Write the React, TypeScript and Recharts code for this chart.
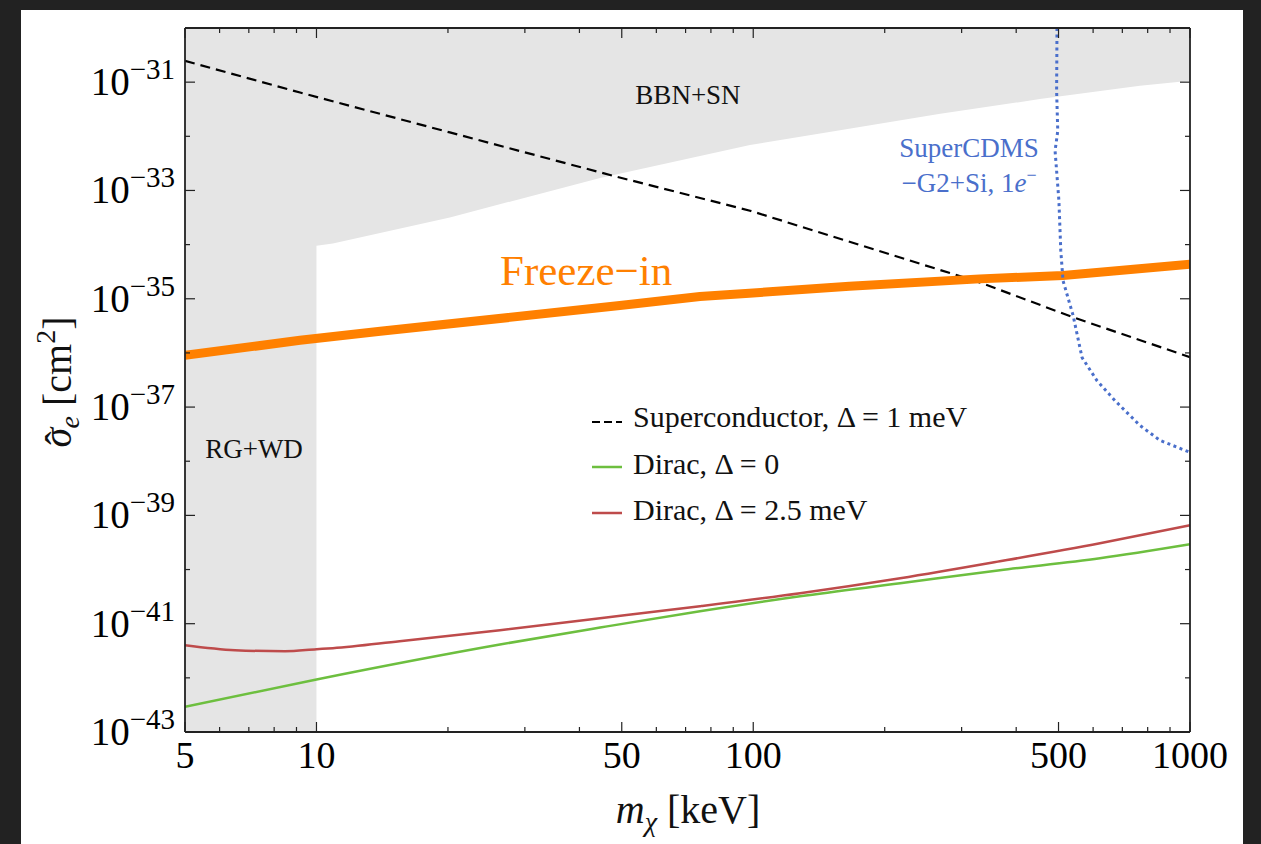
import React from "react";
import { ComposedChart, Line, Area, XAxis, YAxis } from "recharts";

// ---- axes ----
const xTicks = [5, 6, 7, 8, 9, 10, 20, 30, 40, 50, 60, 70, 80, 90, 100, 200, 300, 400, 500, 600, 700, 800, 900, 1000];
const xLabeled = [5, 10, 50, 100, 500, 1000];
const yExponents = [-43, -42, -41, -40, -39, -38, -37, -36, -35, -34, -33, -32, -31, -30];
const yLabeledExp = [-43, -41, -39, -37, -35, -33, -31];
const xDomain = [5, 1000];
const yDomain = [1e-43, 1e-30];

// ---- excluded region (RG+WD for m<10 keV, BBN+SN above) ----
const bbnX = [5, 10, 10, 10.9, 20.2, 44.6, 98.3, 158, 268, 453, 768, 1000];
const bbnLow = [1e-43, 1e-43, 9.57e-35, 1.05e-34, 3.18e-34, 1.7e-33, 6.9e-33, 1.3e-32, 2.6e-32, 4.86e-32, 8.55e-32, 1.06e-31];
const bbnHigh = [1e-30, 1e-30, 1e-30, 1e-30, 1e-30, 1e-30, 1e-30, 1e-30, 1e-30, 1e-30, 1e-30, 1e-30];

// ---- Superconductor, Delta = 1 meV ----
const scX = [5, 9.17, 20.2, 47.7, 98.3, 330, 540, 1000];
const scY = [2.47e-31, 6.43e-32, 1.18e-32, 1.87e-33, 4.23e-34, 2.01e-35, 4.55e-36, 8.34e-37];

// ---- Freeze-in ----
const fiX = [5, 9.17, 14.0, 49.5, 75.5, 98, 166, 330, 512, 1000];
const fiY = [9.0e-37, 1.71e-36, 2.51e-36, 7.48e-36, 1.1e-35, 1.27e-35, 1.7e-35, 2.33e-35, 2.68e-35, 4.36e-35];

// ---- Dirac, Delta = 0 ----
const d0X = [5, 10, 26.3, 44.6, 75.5, 128, 217, 367, 622, 1000];
const d0Y = [2.92e-43, 9.35e-43, 4.13e-42, 8.5e-42, 1.7e-41, 3.21e-41, 5.58e-41, 9.7e-41, 1.61e-40, 2.92e-40];

// ---- Dirac, Delta = 2.5 meV ----
const d25X = [5, 6.51, 8.47, 10, 10.9, 15.5, 26.3, 44.6, 75.5, 128, 217, 367, 622, 1000];
const d25Y = [4.0e-42, 3.24e-42, 3.1e-42, 3.38e-42, 3.53e-42, 4.75e-42, 7.6e-42, 1.26e-41, 2.1e-41, 3.65e-41, 6.9e-41, 1.42e-40, 3.05e-40, 6.56e-40];

// ---- SuperCDMS-G2+Si, 1e- ----
const cdmsX = [496, 495, 498, 491, 501, 506, 512, 540, 566, 612, 673, 768, 854, 1000];
const cdmsY = [1e-30, 6.9e-32, 1.26e-32, 5.41e-33, 6.47e-34, 7.74e-35, 2.16e-35, 4.9e-36, 8.22e-37, 3.1e-37, 1.32e-37, 4.58e-38, 2.42e-38, 1.46e-38];

const yTicks = yExponents.map((e) => Number("1e" + e));
const toXY = (xs: number[], ys: number[]) => xs.map((x, i) => ({ x, y: ys[i] }));
const bbnData = bbnX.map((x, i) => ({ x, r: [bbnLow[i], bbnHigh[i]] }));
const scData = toXY(scX, scY);
const fiData = toXY(fiX, fiY);
const d0Data = toXY(d0X, d0Y);
const d25Data = toXY(d25X, d25Y);
const cdmsData = toXY(cdmsX, cdmsY);

const FONT = "'Liberation Serif', 'Times New Roman', serif";
const FRAME = "#222";
const GRAY = "#e5e5e5";
const ORANGE = "#ff8000";
const GREEN = "#6dbf3f";
const RED = "#be4b4b";
const BLUE = "#4a6fcb";

const XTick = (props: any) => {
  const { x, y, payload, top } = props;
  const v = payload.value;
  const major = xLabeled.includes(v);
  const len = major ? 10 : 5;
  return (
    <g>
      <line x1={x} x2={x} y1={y} y2={top ? y + len : y - len} stroke={FRAME} strokeWidth={1.2} />
      {!top && major && (
        <text x={x} y={y + 36} textAnchor="middle" fontFamily={FONT} fontSize={38} fill="#000">
          {v}
        </text>
      )}
    </g>
  );
};

const YTick = (props: any) => {
  const { x, y, payload, right } = props;
  const e = Math.round(Math.log10(payload.value));
  if (e === -30) return <g />;
  const major = yLabeledExp.includes(e);
  const len = major ? 10 : 5;
  return (
    <g>
      <line x1={x} x2={right ? x - len : x + len} y1={y} y2={y} stroke={FRAME} strokeWidth={1.2} />
      {!right && major && (
        <text x={x - 10} y={y + 13} textAnchor="end" fontFamily={FONT} fill="#000">
          <tspan fontSize={39}>10</tspan>
          <tspan fontSize={29} dy={-16}>{"\u2212" + Math.abs(e)}</tspan>
        </text>
      )}
    </g>
  );
};

const axisLine = { stroke: FRAME, strokeWidth: 1.8 };

export default function App() {
  return (
    <div style={{ position: "absolute", left: 0, top: 0, width: 1261, height: 844, background: "#222", overflow: "hidden" }}>
      <div style={{ position: "absolute", left: 21, top: 10, width: 1222, height: 834, background: "#fff" }} />
      <div style={{ position: "absolute", left: 0, top: 0 }}>
        <ComposedChart width={1261} height={844} margin={{ top: 27, right: 70, bottom: 111, left: 184 }}>
          <XAxis
            xAxisId="b"
            dataKey="x"
            type="number"
            scale="log"
            domain={xDomain}
            allowDataOverflow
            ticks={xTicks}
            interval={0}
            tickSize={0}
            tickMargin={0}
            height={1}
            axisLine={axisLine}
            tickLine={false}
            tick={(p: any) => <XTick {...p} />}
          />
          <XAxis
            xAxisId="t"
            orientation="top"
            dataKey="x"
            type="number"
            scale="log"
            domain={xDomain}
            allowDataOverflow
            ticks={xTicks}
            interval={0}
            tickSize={0}
            tickMargin={0}
            height={1}
            axisLine={axisLine}
            tickLine={false}
            tick={(p: any) => <XTick {...p} top />}
          />
          <YAxis
            yAxisId="l"
            type="number"
            scale="log"
            domain={yDomain}
            allowDataOverflow
            ticks={yTicks}
            interval={0}
            tickSize={0}
            tickMargin={0}
            width={1}
            axisLine={axisLine}
            tickLine={false}
            tick={(p: any) => <YTick {...p} />}
          />
          <YAxis
            yAxisId="r"
            orientation="right"
            type="number"
            scale="log"
            domain={yDomain}
            allowDataOverflow
            ticks={yTicks}
            interval={0}
            tickSize={0}
            tickMargin={0}
            width={1}
            axisLine={axisLine}
            tickLine={false}
            tick={(p: any) => <YTick {...p} right />}
          />
          <Area
            xAxisId="b"
            yAxisId="l"
            data={bbnData}
            dataKey="r"
            type="linear"
            stroke="none"
            fill={GRAY}
            fillOpacity={1}
            isAnimationActive={false}
            dot={false}
            activeDot={false}
          />
          <Line xAxisId="b" yAxisId="l" data={scData} dataKey="y" type="linear" stroke="#000" strokeWidth={2.2} strokeDasharray="10 6" dot={false} activeDot={false} isAnimationActive={false} />
          <Line xAxisId="b" yAxisId="l" data={fiData} dataKey="y" type="linear" stroke={ORANGE} strokeWidth={9} dot={false} activeDot={false} isAnimationActive={false} />
          <Line xAxisId="b" yAxisId="l" data={d0Data} dataKey="y" type="monotone" stroke={GREEN} strokeWidth={2.5} dot={false} activeDot={false} isAnimationActive={false} />
          <Line xAxisId="b" yAxisId="l" data={d25Data} dataKey="y" type="monotone" stroke={RED} strokeWidth={2.5} dot={false} activeDot={false} isAnimationActive={false} />
          <Line xAxisId="b" yAxisId="l" data={cdmsData} dataKey="y" type="linear" stroke={BLUE} strokeWidth={3} strokeDasharray="3 3.5" dot={false} activeDot={false} isAnimationActive={false} />
        </ComposedChart>
      </div>
      <svg width={1261} height={844} style={{ position: "absolute", left: 0, top: 0, pointerEvents: "none" }} fontFamily={FONT}>
        <text x={688} y={104} textAnchor="middle" fontSize={27} fill="#111">BBN+SN</text>
        <text x={254} y={458} textAnchor="middle" fontSize={27} fill="#111">RG+WD</text>
        <text x={500} y={285} textAnchor="start" fontSize={43} fill={ORANGE}>{"Freeze\u2212in"}</text>
        <text x={969} y={157} textAnchor="middle" fontSize={27} fill={BLUE}>SuperCDMS</text>
        <text x={969} y={192} textAnchor="middle" fontSize={27} fill={BLUE}>
          <tspan>{"\u2212G2+Si, 1"}</tspan>
          <tspan fontStyle="italic">e</tspan>
          <tspan fontSize={18} dy={-11}>{"\u2212"}</tspan>
        </text>
        {/* legend */}
        <line x1={592} x2={622} y1={422} y2={422} stroke="#000" strokeWidth={2} strokeDasharray="8 4" />
        <text x={633} y={427} fontSize={30} fill="#111">{"Superconductor, \u0394 = 1 meV"}</text>
        <line x1={592} x2={622} y1={467} y2={467} stroke={GREEN} strokeWidth={2.5} />
        <text x={633} y={474} fontSize={30} fill="#111">{"Dirac, \u0394 = 0"}</text>
        <line x1={592} x2={622} y1={513} y2={513} stroke={RED} strokeWidth={2.5} />
        <text x={633} y={520} fontSize={30} fill="#111">{"Dirac, \u0394 = 2.5 meV"}</text>
        {/* axis labels */}
        <text x={688} y={823} textAnchor="middle" fontSize={40} fill="#111">
          <tspan fontStyle="italic">m</tspan>
          <tspan fontStyle="italic" fontSize={28} dy={8}>{"\u03c7"}</tspan>
          <tspan dy={-8}>{" [keV]"}</tspan>
        </text>
        <text x={71} y={382} transform="rotate(-90 71 382)" textAnchor="middle" fontSize={40} fill="#111">
          <tspan fontStyle="italic">{"\u03c3"}</tspan>
          <tspan dx={-17} dy={2}>{"\u02c6"}</tspan>
          <tspan fontStyle="italic" fontSize={28} dx={3} dy={6}>e</tspan>
          <tspan dy={-8}>{" [cm"}</tspan>
          <tspan fontSize={28} dy={-16}>2</tspan>
          <tspan dy={16}>]</tspan>
        </text>
      </svg>
    </div>
  );
}
